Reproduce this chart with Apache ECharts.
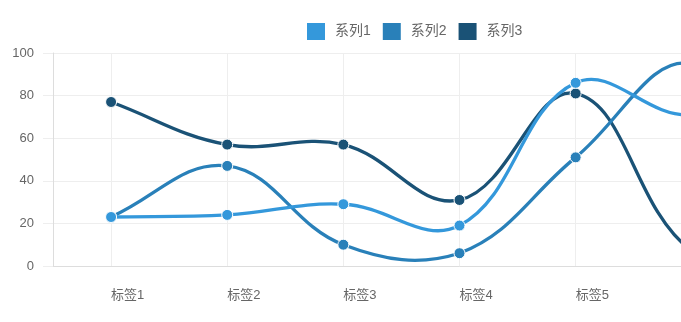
<!DOCTYPE html>
<html><head><meta charset="utf-8">
<script src="https://cdn.jsdelivr.net/npm/echarts@6/dist/echarts.min.js"></script>
<style>html,body{margin:0;padding:0;background:#fff;overflow:hidden;width:681px;height:322px}#c{width:866px;height:322px}</style>
</head><body><div id="c"></div>
<script>
const categories = ['标签1','标签2','标签3','标签4','标签5','标签6','标签7'];
const series1 = [23, 24, 29, 19, 86, 71, 95];
const series2 = [23, 47, 10, 6, 51, 95, 28];
const series3 = [77, 57, 57, 31, 81, 7, 0];
const seriesNames = ['系列1','系列2','系列3'];
const colors = ['#3498db','#2980b9','#1a5276'];
const font = 'Liberation Sans, Arial, "Noto Sans CJK SC", sans-serif';

const chart = echarts.init(document.getElementById('c'));

// Chart.js-style spline (tension 0.4) drawn from axis-converted coordinates
function splineSeries(name, values, color, z) {
  return {
    name, type: 'custom', z, clip: false, silent: true,
    data: values.map((v, i) => [i, v]),
    encode: { x: 0, y: 1 },
    renderItem(params, api) {
      if (params.dataIndex !== 0) return;
      const pts = values.map((v, i) => api.coord([i, v]));
      const t = 0.4;
      const top = api.coord([0, 100])[1], bottom = api.coord([0, 0])[1];
      const capY = y => Math.min(bottom, Math.max(top, y));
      const cps = pts.map((p, i) => {
        const prev = pts[i - 1] || p, next = pts[i + 1] || p;
        const d01 = Math.hypot(p[0] - prev[0], p[1] - prev[1]);
        const d12 = Math.hypot(next[0] - p[0], next[1] - p[1]);
        let s01 = d01 / (d01 + d12), s12 = d12 / (d01 + d12);
        if (isNaN(s01)) s01 = 0;
        if (isNaN(s12)) s12 = 0;
        const fa = t * s01, fb = t * s12;
        return {
          prev: [p[0] - fa * (next[0] - prev[0]), capY(p[1] - fa * (next[1] - prev[1]))],
          next: [p[0] + fb * (next[0] - prev[0]), capY(p[1] + fb * (next[1] - prev[1]))]
        };
      });
      let d = 'M' + pts[0][0] + ',' + pts[0][1];
      for (let i = 1; i < pts.length; i++) {
        const a = cps[i - 1].next, b = cps[i].prev, c = pts[i];
        d += ' C' + a[0] + ',' + a[1] + ' ' + b[0] + ',' + b[1] + ' ' + c[0] + ',' + c[1];
      }
      return {
        type: 'path',
        shape: { pathData: d },
        style: { stroke: color, lineWidth: 3.3, fill: 'none', lineCap: 'round', lineJoin: 'round' }
      };
    }
  };
}
function pointSeries(name, values, color, z) {
  return {
    name, type: 'line', data: values, z,
    symbol: 'circle', symbolSize: 11,
    lineStyle: { width: 0, opacity: 0 },
    itemStyle: { color, borderColor: '#fff', borderWidth: 1 }
  };
}

chart.setOption({
  animation: false,
  color: colors,
  textStyle: { fontFamily: font },
  legend: {
    left: 302, top: 18, itemWidth: 18, itemHeight: 17, itemGap: 12,
    icon: 'rect',
    itemStyle: { borderWidth: 0 },
    textStyle: { color: '#666', fontSize: 14, fontFamily: font, padding: [0, 0, 0, 5] },
    data: seriesNames
  },
  grid: { left: 53, top: 53, bottom: 56, right: 0 },
  xAxis: {
    type: 'category', data: categories, boundaryGap: true,
    axisLine: { lineStyle: { color: '#ddd' } },
    axisTick: { alignWithLabel: true, length: 7, lineStyle: { color: '#e8e8e8' } },
    axisLabel: { color: '#666', fontSize: 13, margin: 23, align: 'left', fontFamily: font },
    splitLine: { show: true, alignWithLabel: true, lineStyle: { color: '#eee' } }
  },
  yAxis: {
    type: 'value', min: 0, max: 100, interval: 20,
    axisLine: { show: true, lineStyle: { color: '#ddd' } },
    axisTick: { show: true, length: 10, lineStyle: { color: '#eee' } },
    axisLabel: { color: '#666', fontSize: 13, margin: 19, fontFamily: font },
    splitLine: { show: true, lineStyle: { color: '#eee' } }
  },
  series: [
    pointSeries(seriesNames[0], series1, colors[0], 6),
    pointSeries(seriesNames[1], series2, colors[1], 4),
    pointSeries(seriesNames[2], series3, colors[2], 2),
    splineSeries(seriesNames[0], series1, colors[0], 5),
    splineSeries(seriesNames[1], series2, colors[1], 3),
    splineSeries(seriesNames[2], series3, colors[2], 1)
  ]
});
</script></body></html>
